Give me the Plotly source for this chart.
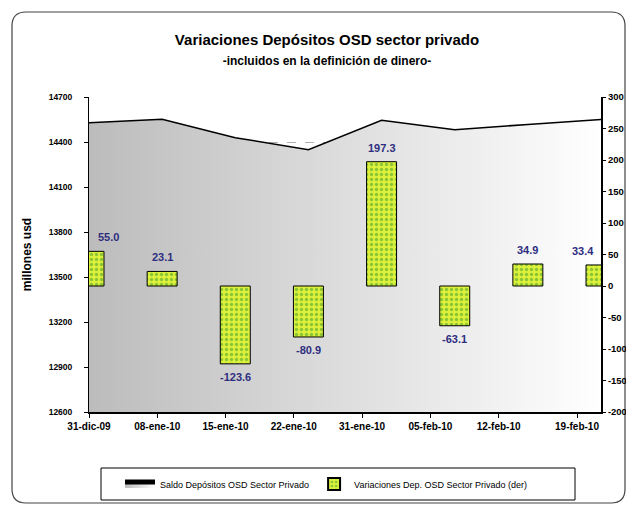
import numpy as np
import plotly.graph_objects as go

# ---- data ----
FECHAS = ["31-dic-09", "08-ene-10", "15-ene-10", "22-ene-10",
          "31-ene-10", "05-feb-10", "12-feb-10", "19-feb-10"]
SALDO = [14529, 14552, 14429, 14348, 14545, 14482, 14517, 14550]
VARIACION = [55.0, 23.1, -123.6, -80.9, 197.3, -63.1, 34.9, 33.4]
LEFT_TICKS = [12600, 12900, 13200, 13500, 13800, 14100, 14400, 14700]
RIGHT_TICKS = [-200, -150, -100, -50, 0, 50, 100, 150, 200, 250, 300]

# page offset from the default body margin
OFF = 8
W, H = 634 - OFF, 505 - OFF
L, R, T, B = 89, 601, 97, 412  # plot area in page px

def px(x):
    return (x - L) / (R - L)

def py(y):
    return (B - y) / (B - T)

FONT = "Liberation Sans, Arial"
pos = np.arange(len(FECHAS))

fig = go.Figure()
fig.add_trace(go.Scatter(
    x=pos, y=SALDO, mode="lines", fill="tozeroy",
    name="Saldo Depósitos OSD Sector Privado",
    line=dict(color="black", width=1.5),
    fillgradient=dict(type="horizontal",
                      colorscale=[[0, "#bcbcbc"], [1, "#ffffff"]]),
    yaxis="y", showlegend=True))
fig.add_trace(go.Bar(
    x=pos, y=VARIACION, width=0.41, yaxis="y2",
    name="Variaciones Dep. OSD Sector Privado (der)",
    marker=dict(color="#dcf03c", line=dict(color="black", width=1),
                pattern=dict(shape=".", fgcolor="#3c9a2a", bgcolor="#dcf03c",
                             size=5, solidity=0.35))))

# data labels
n = len(FECHAS)
for i, v in enumerate(VARIACION):
    xs = 0
    if i == 0:
        xs = 19
    elif i == n - 1:
        xs = -18
    fig.add_annotation(
        x=pos[i], y=v, xref="x", yref="y2", text=f"<b>{v:.1f}</b>",
        showarrow=False, xshift=xs,
        yanchor="bottom" if v >= 0 else "top",
        yshift=6 if v >= 0 else -5,
        font=dict(family=FONT, size=11, color="#2e2e80"))

# x tick positions (Excel-style offset labels)
tickvals = [i * (n - 1) / (n - 0.5) for i in range(n)]
tickvals[-1] = px(577) * (n - 1)

fig.update_layout(
    width=W, height=H,
    margin=dict(l=L - OFF, r=W - (R - OFF), t=T - OFF, b=H - (B - OFF),
                autoexpand=False),
    paper_bgcolor="white", plot_bgcolor="white",
    title=dict(
        text="<b>Variaciones Depósitos OSD sector privado</b><br>"
             "<span style='font-size:12px'><b>-incluidos en la definición de dinero-</b></span>",
        x=px(327), xanchor="center", xref="paper",
        y=1 - 37 / H, yanchor="top",
        font=dict(family=FONT, size=15, color="black")),
    xaxis=dict(range=[0, n - 1], tickvals=tickvals,
               ticktext=[f"<b>{f}</b>" for f in FECHAS],
               showgrid=False, zeroline=False, showline=True,
               linecolor="black", linewidth=2, ticks="outside", ticklen=4,
               tickcolor="black", automargin=False,
               tickfont=dict(family=FONT, size=10, color="black")),
    yaxis=dict(range=[12600, 14700], tickvals=LEFT_TICKS,
               ticktext=[f"<b>{v}</b>" for v in LEFT_TICKS],
               showgrid=True, gridcolor="#b0b0b0", griddash="dash", gridwidth=1,
               zeroline=False, showline=True, linecolor="black", linewidth=1,
               ticks="outside", ticklen=4, tickcolor="black", automargin=False,
               ticklabelstandoff=10,
               tickfont=dict(family=FONT, size=8.5, color="black"),
               title=dict(text="<b>millones usd</b>", standoff=14,
                          font=dict(family=FONT, size=12, color="black"))),
    yaxis2=dict(range=[-200, 300], tickvals=RIGHT_TICKS,
                ticktext=[f"<b>{v}</b>" for v in RIGHT_TICKS],
                overlaying="y", automargin=False,
                side="right", showgrid=False, zeroline=False, showline=True,
                linecolor="black", linewidth=2, ticks="outside", ticklen=3,
                tickcolor="black", ticklabelstandoff=0,
                tickfont=dict(family=FONT, size=9.5, color="black")),
    legend=dict(orientation="h", x=px(120), xanchor="left",
                y=py(484), yanchor="middle", bgcolor="rgba(0,0,0,0)",
                font=dict(family=FONT, size=9, color="black"),
                itemsizing="constant", traceorder="normal"),
    showlegend=True,
)

# legend box
fig.add_shape(type="rect", xref="paper", yref="paper",
              x0=px(101), x1=px(575), y0=py(500), y1=py(468),
              line=dict(color="black", width=1), fillcolor="rgba(0,0,0,0)",
              layer="below")

# rounded chart-area border
x0, x1, y0, y1, r = 12, 625, 12, 503, 14
path = (f"M {px(x0 + r)} {py(y0)} L {px(x1 - r)} {py(y0)} "
        f"Q {px(x1)} {py(y0)} {px(x1)} {py(y0 + r)} "
        f"L {px(x1)} {py(y1 - r)} Q {px(x1)} {py(y1)} {px(x1 - r)} {py(y1)} "
        f"L {px(x0 + r)} {py(y1)} Q {px(x0)} {py(y1)} {px(x0)} {py(y1 - r)} "
        f"L {px(x0)} {py(y0 + r)} Q {px(x0)} {py(y0)} {px(x0 + r)} {py(y0)} Z")
fig.add_shape(type="path", path=path, xref="paper", yref="paper",
              line=dict(color="#444444", width=1.2), layer="below")

fig.write_html("out.html")
